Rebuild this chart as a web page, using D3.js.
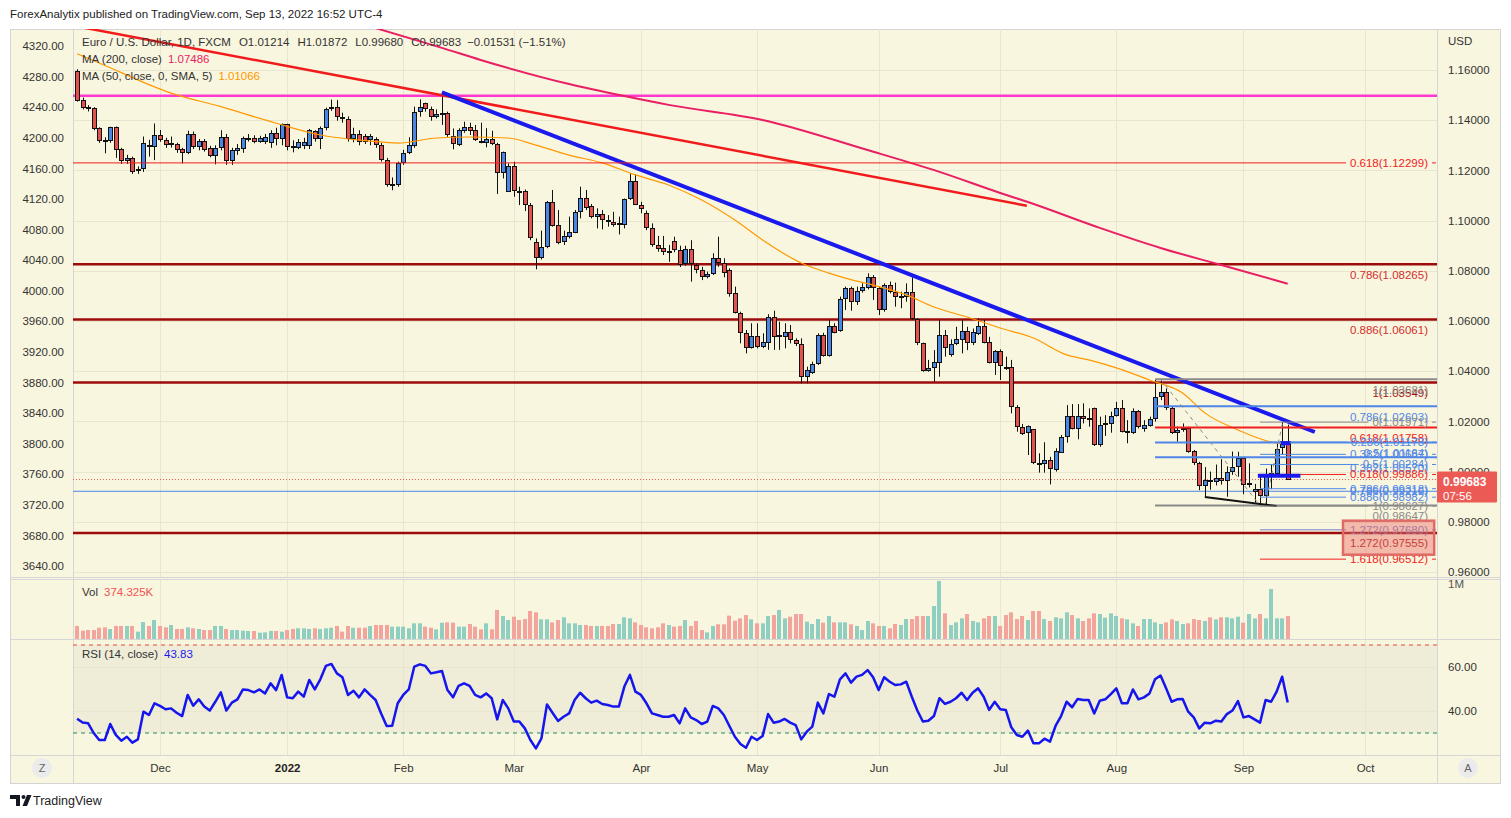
<!DOCTYPE html>
<html>
<head>
<meta charset="utf-8">
<script src="https://cdn.jsdelivr.net/npm/d3@7/dist/d3.min.js"></script>
<style>
html,body{margin:0;padding:0;background:#ffffff;}
svg{display:block;font-family:"Liberation Sans",Arial,sans-serif;}
</style>
</head>
<body>
<svg id="chart" width="1511" height="818"></svg>
<script>
// ================= DATA =================
const startDay = "2021-11-10";
const monthLabels = ["Dec","2022","Feb","Mar","Apr","May","Jun","Jul","Aug","Sep","Oct"];

const open = [
1.1596,1.1481,1.1451,1.1447,1.1368,1.1320,1.1318,1.1372,1.1284,1.1236,
1.1248,1.1196,1.1204,1.1301,1.1292,1.1341,1.1321,1.1300,1.1304,1.1285,
1.1270,1.1345,1.1292,1.1316,1.1288,1.1259,1.1288,1.1334,1.1237,1.1279,
1.1284,1.1322,1.1328,1.1315,1.1315,1.1308,1.1350,1.1324,1.1385,1.1298,
1.1290,1.1297,1.1297,1.1355,1.1324,1.1368,1.1443,1.1454,1.1414,1.1403,
1.1324,1.1345,1.1337,1.1321,1.1324,1.1300,1.1241,1.1142,1.1140,1.1228,
1.1271,1.1298,1.1434,1.1467,1.1443,1.1414,1.1423,1.1427,1.1337,1.1301,
1.1358,1.1372,1.1361,1.1317,1.1308,1.1324,1.1304,1.1191,1.1115,1.1218,
1.1119,1.1118,1.1064,1.0916,1.0850,1.0893,1.1073,1.0982,1.0916,1.0936,
1.0952,1.1033,1.1089,1.1058,1.1013,1.1025,1.1002,1.0996,1.0983,1.0983,
1.1085,1.1158,1.1064,1.1030,1.0969,1.0903,1.0889,1.0876,1.0919,1.0883,
1.0827,1.0885,1.0823,1.0803,1.0777,1.0786,1.0850,1.0830,1.0803,1.0710,
1.0633,1.0551,1.0494,1.0540,1.0498,1.0514,1.0615,1.0535,1.0537,1.0555,
1.0524,1.0507,1.0376,1.0394,1.0429,1.0544,1.0461,1.0580,1.0560,1.0688,
1.0730,1.0677,1.0720,1.0730,1.0777,1.0730,1.0644,1.0744,1.0714,1.0694,
1.0697,1.0714,1.0608,1.0511,1.0402,1.0411,1.0434,1.0544,1.0464,1.0508,
1.0524,1.0560,1.0514,1.0548,1.0580,1.0518,1.0434,1.0480,1.0415,1.0415,
1.0259,1.0179,1.0152,1.0168,1.0036,1.0030,1.0046,1.0006,1.0075,1.0137,
1.0221,1.0170,1.0221,1.0215,1.0252,1.0106,1.0186,1.0190,1.0221,1.0255,
1.0159,1.0155,1.0241,1.0168,1.0183,1.0208,1.0296,1.0316,1.0255,1.0152,
1.0166,1.0172,1.0082,1.0036,0.9943,0.9967,0.9960,0.9973,0.9964,0.9998,
1.0017,1.0054,0.9946,0.9918,0.9930,0.9902,0.9987,0.9990,1.0095,1.01214];

const high = [
1.1603,1.1490,1.1460,1.1452,1.1372,1.1332,1.1374,1.1375,1.1290,1.1262,
1.1255,1.1216,1.1335,1.1322,1.1387,1.1361,1.1330,1.1335,1.1310,1.1290,
1.1358,1.1355,1.1325,1.1325,1.1298,1.1300,1.1360,1.1345,1.1290,1.1305,
1.1335,1.1345,1.1340,1.1338,1.1345,1.1360,1.1370,1.1387,1.1386,1.1320,
1.1325,1.1330,1.1365,1.1360,1.1375,1.1450,1.1482,1.1480,1.1430,1.1415,
1.1370,1.1360,1.1345,1.1345,1.1332,1.1310,1.1250,1.1172,1.1235,1.1282,
1.1332,1.1454,1.1483,1.1470,1.1454,1.1443,1.1506,1.1434,1.1367,1.1368,
1.1394,1.1390,1.1381,1.1390,1.1368,1.1358,1.1310,1.1275,1.1228,1.1235,
1.1135,1.1124,1.1070,1.0929,1.0960,1.1078,1.1122,1.1042,1.0960,1.1016,
1.1042,1.1135,1.1122,1.1066,1.1049,1.1042,1.1022,1.1035,1.1016,1.1088,
1.1188,1.1185,1.1075,1.1040,1.0989,1.0939,1.0939,1.0903,1.0936,1.0900,
1.0900,1.0922,1.0830,1.0816,1.0797,1.0870,1.0936,1.0850,1.0810,1.0737,
1.0637,1.0564,1.0591,1.0591,1.0551,1.0627,1.0641,1.0597,1.0591,1.0584,
1.0531,1.0531,1.0418,1.0438,1.0551,1.0553,1.0604,1.0591,1.0697,1.0737,
1.0737,1.0737,1.0750,1.0790,1.0783,1.0737,1.0750,1.0757,1.0753,1.0717,
1.0750,1.0774,1.0611,1.0514,1.0445,1.0484,1.0604,1.0564,1.0527,1.0577,
1.0604,1.0577,1.0570,1.0611,1.0604,1.0537,1.0484,1.0487,1.0458,1.0445,
1.0265,1.0190,1.0184,1.0170,1.0073,1.0117,1.0059,1.0093,1.0146,1.0265,
1.0269,1.0269,1.0272,1.0252,1.0255,1.0219,1.0225,1.0239,1.0278,1.0285,
1.0205,1.0252,1.0245,1.0205,1.0219,1.0365,1.0368,1.0331,1.0261,1.0179,
1.0192,1.0179,1.0086,1.0039,1.0018,1.0000,1.0028,1.0050,1.0021,1.0080,
1.0079,1.0056,1.0033,0.9951,0.9989,1.0012,1.0030,1.0112,1.0197,1.01872];

const low = [
1.1474,1.1443,1.1435,1.1360,1.1310,1.1268,1.1310,1.1250,1.1226,1.1226,
1.1186,1.1186,1.1194,1.1255,1.1241,1.1314,1.1290,1.1291,1.1270,1.1228,
1.1265,1.1285,1.1280,1.1275,1.1252,1.1224,1.1280,1.1222,1.1222,1.1262,
1.1270,1.1315,1.1308,1.1310,1.1305,1.1290,1.1300,1.1300,1.1280,1.1272,
1.1285,1.1285,1.1285,1.1315,1.1285,1.1360,1.1437,1.1398,1.1390,1.1315,
1.1312,1.1300,1.1305,1.1300,1.1290,1.1235,1.1135,1.1121,1.1135,1.1222,
1.1265,1.1290,1.1414,1.1434,1.1398,1.1407,1.1381,1.1334,1.1284,1.1297,
1.1350,1.1341,1.1317,1.1308,1.1292,1.1301,1.1106,1.1168,1.1115,1.1095,
1.1062,1.1038,1.0922,1.0806,1.0845,1.0890,1.0976,1.0906,1.0903,1.0929,
1.0950,1.1009,1.1042,1.1009,1.0969,1.0965,1.0976,1.0976,1.0945,1.0969,
1.1082,1.1062,1.1029,1.0962,1.0896,1.0876,1.0863,1.0836,1.0874,1.0815,
1.0820,1.0757,1.0790,1.0763,1.0770,1.0783,1.0816,1.0774,1.0697,1.0630,
1.0511,1.0471,1.0490,1.0491,1.0492,1.0485,1.0485,1.0485,1.0491,1.0511,
1.0500,1.0352,1.0352,1.0389,1.0425,1.0458,1.0458,1.0551,1.0557,1.0644,
1.0641,1.0664,1.0713,1.0726,1.0684,1.0624,1.0637,1.0710,1.0657,1.0651,
1.0677,1.0604,1.0504,1.0398,1.0398,1.0358,1.0378,1.0458,1.0458,1.0504,
1.0471,1.0484,1.0504,1.0544,1.0511,1.0431,1.0385,1.0365,1.0405,1.0232,
1.0159,1.0146,1.0066,1.0030,0.9996,0.9996,0.9949,1.0000,1.0075,1.0115,
1.0168,1.0129,1.0192,1.0179,1.0102,1.0099,1.0142,1.0155,1.0219,1.0156,
1.0113,1.0150,1.0172,1.0159,1.0179,1.0199,1.0285,1.0245,1.0150,1.0119,
1.0159,1.0075,1.0026,0.9926,0.9901,0.9928,0.9945,0.9948,0.9900,0.9987,
0.9980,0.9910,0.9937,0.9877,0.9863,0.9864,0.9930,0.9985,1.0068,0.99680];

const close = [
1.1478,1.1447,1.1443,1.1365,1.1318,1.1318,1.1372,1.1281,1.1236,1.1250,
1.1195,1.1206,1.1308,1.1292,1.1341,1.1321,1.1301,1.1310,1.1281,1.1268,
1.1345,1.1292,1.1318,1.1281,1.1259,1.1290,1.1332,1.1237,1.1281,1.1288,
1.1328,1.1328,1.1315,1.1328,1.1332,1.1350,1.1325,1.1385,1.1295,1.1290,
1.1315,1.1315,1.1361,1.1324,1.1368,1.1443,1.1454,1.1414,1.1403,1.1324,
1.1345,1.1314,1.1314,1.1339,1.1300,1.1241,1.1142,1.1145,1.1228,1.1271,
1.1301,1.1434,1.1451,1.1443,1.1414,1.1425,1.1427,1.1341,1.1304,1.1361,
1.1372,1.1358,1.1321,1.1308,1.1324,1.1304,1.1191,1.1272,1.1218,1.1119,
1.1116,1.1064,1.0929,1.0850,1.0893,1.1073,1.0980,1.0909,1.0939,1.0953,
1.1033,1.1089,1.1049,1.1013,1.1025,1.1002,1.0999,1.0983,1.0989,1.1085,
1.1158,1.1064,1.1045,1.0969,1.0903,1.0886,1.0876,1.0878,1.0883,1.0823,
1.0885,1.0826,1.0803,1.0777,1.0787,1.0850,1.0830,1.0793,1.0708,1.0633,
1.0551,1.0494,1.0540,1.0495,1.0515,1.0617,1.0535,1.0544,1.0555,1.0524,
1.0507,1.0376,1.0405,1.0429,1.0544,1.0461,1.0580,1.0554,1.0688,1.0730,
1.0677,1.0721,1.0737,1.0777,1.0730,1.0644,1.0744,1.0714,1.0694,1.0700,
1.0714,1.0608,1.0511,1.0402,1.0411,1.0438,1.0544,1.0491,1.0508,1.0527,
1.0560,1.0514,1.0557,1.0580,1.0514,1.0434,1.0480,1.0422,1.0411,1.0259,
1.0176,1.0150,1.0182,1.0033,1.0030,1.0046,1.0009,1.0082,1.0139,1.0221,
1.0171,1.0221,1.0208,1.0206,1.0106,1.0186,1.0195,1.0221,1.0255,1.0159,
1.0160,1.0241,1.0176,1.0186,1.0208,1.0296,1.0316,1.0255,1.0152,1.0166,
1.0172,1.0079,1.0033,0.9943,0.9966,0.9961,0.9973,0.9964,0.9998,1.0017,
1.0054,0.9946,0.9953,0.9929,0.9903,0.9987,0.9993,1.0092,1.0121,0.99683];

// volume in thousands
const volume = [
212,136,146,146,184,190,163,212,212,212,
212,119,277,212,309,212,190,228,163,163,
190,174,163,146,146,212,212,163,146,146,
136,130,130,103,108,130,130,119,146,163,
174,174,163,174,163,174,184,212,119,212,
184,184,184,212,228,228,228,201,201,201,
174,255,255,201,184,157,266,271,266,201,
201,244,201,157,255,157,472,374,309,363,
309,325,456,434,320,320,271,309,353,255,
255,228,228,212,212,212,212,244,244,353,
336,271,228,190,174,190,255,228,201,212,
309,212,293,146,108,212,239,239,380,298,
336,390,320,255,255,374,390,472,336,363,
407,407,282,244,325,266,374,271,271,271,
239,212,146,293,255,212,212,174,244,228,
325,325,374,374,374,537,944,418,228,271,
336,407,293,271,336,374,374,212,390,434,
325,374,309,456,456,325,293,353,336,434,
390,336,293,336,418,407,347,418,374,336,
320,255,212,325,325,271,244,271,320,293,
244,255,325,309,293,353,320,353,353,336,
363,266,407,336,407,336,814,336,336,374.325];

const rsi = [
36.5,34.8,34.4,30.0,26.8,26.8,34.1,29.1,26.5,28.3,
25.6,27.1,39.7,38.2,43.5,42.3,40.8,41.2,39.2,37.7,
47.3,42.4,45.3,42.0,40.2,44.2,48.5,40.2,43.8,45.3,
49.8,49.5,48.5,49.8,48.0,52.6,49.5,56.4,46.2,45.8,
48.8,46.5,54.1,49.8,54.4,60.5,61.4,57.1,55.3,47.3,
49.2,46.2,49.8,47.3,45.0,38.9,33.2,33.3,43.5,47.3,
49.8,60.2,61.2,60.5,57.1,57.6,58.2,49.5,46.2,51.4,
52.6,51.4,47.3,46.2,48.0,45.8,36.2,45.0,41.2,35.2,
35.2,32.1,26.8,23.0,27.6,43.0,39.2,35.5,37.4,38.9,
45.0,48.3,45.8,43.8,44.7,43.2,42.7,42.0,42.0,51.1,
56.4,48.8,47.3,43.5,38.9,38.2,37.4,37.4,38.2,34.4,
41.2,37.1,35.9,34.1,35.2,42.3,41.2,38.2,33.2,28.3,
25.0,23.3,28.3,26.8,28.6,38.6,34.7,35.2,36.4,34.7,
33.6,27.1,30.6,32.9,43.8,38.9,47.7,46.5,54.4,57.1,
52.9,55.6,56.4,58.6,55.3,49.5,55.3,53.3,51.8,52.1,
53.3,46.5,40.2,35.2,35.6,37.7,45.8,43.2,44.2,45.8,
48.3,45.0,48.3,50.3,46.5,40.5,44.2,40.8,40.5,32.6,
29.1,28.3,31.1,25.3,25.3,27.4,26.1,33.2,37.7,44.2,
41.7,45.5,45.0,45.0,38.9,44.7,45.3,47.7,50.3,43.5,
43.5,49.8,45.3,46.2,48.0,54.4,56.1,50.3,44.2,45.3,
45.5,39.7,37.1,32.1,34.7,34.4,35.6,35.2,38.6,40.2,
44.5,37.1,37.7,36.2,34.7,45.0,44.2,48.8,55.6,43.83];

// moving averages (bar index, value)
const ma50Idx = [0,4,17,26,36,44,53,58,65,71,78,83,89,95,101,107,113,119,124,131,136,139,144,150,155,161,167,173,179,183,188,194,200,204,210,216,219];
const ma50Val = [1.1665,1.1628,1.1508,1.1454,1.1388,1.1341,1.1317,1.1309,1.1329,1.1333,1.1329,1.1301,1.1261,1.1230,1.1182,1.1142,1.1082,1.1002,1.0923,1.0831,1.0791,1.0771,1.0743,1.0704,1.0656,1.0616,1.0572,1.0532,1.0465,1.0445,1.0413,1.0365,1.0313,1.0234,1.0166,1.0118,1.01066];
const ma200Idx = [54,66,73,89,99,107,124,143,156,167,172,185,196,207,219];
const ma200Val = [1.1767,1.1688,1.1640,1.1544,1.1496,1.1461,1.1401,1.1281,1.1194,1.1110,1.1074,1.0971,1.0891,1.0823,1.07486];

// axes ticks
const priceTicks = [1.16,1.14,1.12,1.10,1.08,1.06,1.04,1.02,1.00,0.98,0.96];
const leftTicks = [4320,4280,4240,4200,4160,4120,4080,4040,4000,3960,3920,3880,3840,3800,3760,3720,3680,3640];
const rsiTicks = [60,40];

// drawings (levels / anchors)
const redTrend = {i:[-1,171.8], p:[1.17779,1.10594]};
const blueTrend = {i:[66,223.9], p:[1.1511,1.01578]};
const magentaLevel = 1.14976;
const darkRedLevels = [1.08265,1.06061,1.03549,0.97555];
const darkRedLabels = ["0.786(1.08265)","0.886(1.06061)","1(1.03549)","1.272(0.97555)"];
const redLevel = 1.12299, redLabel = "0.618(1.12299)";
const fullBlueLevel = 0.99216, fullBlueLabel = "0.786(0.99216)";
const lastPrice = 0.99683;
const fib1Start = 195;
const fib1Levels = [1.03681,1.02603,1.01758,1.01164,1.00570,0.98647];
const fib1Labels = ["1(1.03681)","0.786(1.02603)","0.618(1.01758)","0.5(1.01164)","0.382(1.00570)","0(0.98647)"];
const fib1Kind = ["g","b","r","b","b","g"];
const fib2Start = 214;
const fib2Levels = [1.01971,1.01173,1.00687,1.00284,0.99886,0.99318,0.98982,0.98627,0.97680,0.96512];
const fib2Labels = ["0(1.01971)","0.236(1.01173)","0.382(1.00687)","0.5(1.00284)","0.618(0.99886)","0.786(0.99318)","0.886(0.98982)","1(0.98627)","1.272(0.97680)","1.618(0.96512)"];
const fib2Kind = ["g","b","b","b","r","b","b","g","p","r"];
const fib1Trend = {i:[196,214], p:[1.03681,0.98647]};
const fib2Trend = {i:[214.9,218.1], p:[0.98627,1.01971]};
const supportLine = {i:[204,217], p:[0.9899,0.9863]};
const thickBlue1 = {i:[213.6,221.3], p:0.9983};
const thickBlue2 = {i:[217.8,219.4], p:1.0113};
const pinkBox = {i:[229,245.5], p:[0.98044,0.96689]};

// ================= CHART =================
const svg = d3.select("#chart");
const n = close.length;
const FR = {l:10, r:1500, t:29, b:783};
const PL = 73, PR = 1437;
const PRICE = {t:29, b:577}, VOL = {t:579, b:639}, RSIP = {t:640, b:755}, TIME = {t:755, b:783};
const BG = "#f9f6df";

const x = d3.scaleLinear().domain([0, n-1]).range([77.1, 1287.7]);
const y = d3.scaleLinear().domain([0.96, 1.16]).range([572, 70]);
const yL = d3.scaleLinear().domain([3640, 4320]).range([566, 46]);
const yV = d3.scaleLinear().domain([0, 960]).range([VOL.b, 580]);
const yR = d3.scaleLinear().domain([30, 70]).range([733, 645]);

function tradingDays(s, count){
  const out=[]; const d=new Date(s+"T12:00:00");
  while(out.length<count){const wd=d.getDay(); if(wd!==0&&wd!==6) out.push(new Date(d)); d.setDate(d.getDate()+1);}
  return out;
}
const days = tradingDays(startDay, 250);
const monthIdx = [];
for(let i=1;i<days.length;i++) if(days[i].getMonth()!==days[i-1].getMonth()) monthIdx.push(i);

// header
svg.append("text").attr("x",10).attr("y",18).attr("font-size",11.5).attr("fill","#222")
  .text("ForexAnalytix published on TradingView.com, Sep 13, 2022 16:52 UTC-4");

// frame
svg.append("rect").attr("x",FR.l+0.5).attr("y",FR.t+0.5).attr("width",FR.r-FR.l).attr("height",FR.b-FR.t)
  .attr("fill",BG).attr("stroke","#d4d4d4");

const defs = svg.append("defs");
function clip(id, t, b){ defs.append("clipPath").attr("id",id).append("rect").attr("x",PL).attr("y",t).attr("width",PR-PL).attr("height",b-t); }
clip("cp", PRICE.t, PRICE.b); clip("cv", VOL.t, VOL.b); clip("cr", RSIP.t, RSIP.b);
defs.append("clipPath").attr("id","cax").append("rect").attr("x",PR).attr("y",PRICE.b+3).attr("width",FR.r-PR).attr("height",20);

// RSI band
svg.append("rect").attr("x",PL).attr("y",yR(70)).attr("width",PR-PL).attr("height",yR(30)-yR(70)).attr("fill","#efecd8");

// grids
const grid = svg.append("g").attr("stroke","#e9e6cf").attr("stroke-width",1);
monthIdx.forEach(i=>{
  const gx = Math.round(x(i))+0.5;
  [[PRICE.t,PRICE.b],[VOL.t,VOL.b],[RSIP.t,RSIP.b]].forEach(r=>grid.append("line").attr("x1",gx).attr("x2",gx).attr("y1",r[0]).attr("y2",r[1]));
});
priceTicks.forEach(p=>{const gy=Math.round(y(p))+0.5; grid.append("line").attr("x1",PL).attr("x2",PR).attr("y1",gy).attr("y2",gy);});
rsiTicks.forEach(v=>{const gy=Math.round(yR(v))+0.5; grid.append("line").attr("x1",PL).attr("x2",PR).attr("y1",gy).attr("y2",gy);});

// axes
const axFont = 11.5;
const la = svg.append("g").attr("transform",`translate(${PL},0)`)
  .call(d3.axisLeft(yL).tickValues(leftTicks).tickFormat(d3.format(".2f")).tickSize(0).tickPadding(9));
const ra = svg.append("g").attr("transform",`translate(${PR},0)`)
  .call(d3.axisRight(y).tickValues(priceTicks).tickFormat(d3.format(".5f")).tickSize(0).tickPadding(11));
const rr = svg.append("g").attr("transform",`translate(${PR},0)`)
  .call(d3.axisRight(yR).tickValues(rsiTicks).tickFormat(d3.format(".2f")).tickSize(0).tickPadding(11));
const ta = svg.append("g").attr("transform",`translate(0,${TIME.t})`)
  .call(d3.axisBottom(x).tickValues(monthIdx.slice(0,monthLabels.length)).tickFormat((d,i)=>monthLabels[i]).tickSize(0).tickPadding(9));
[la,ra,rr,ta].forEach(g=>{g.select(".domain").remove(); g.selectAll("text").attr("font-size",axFont).attr("fill","#333").attr("font-family","Liberation Sans, Arial, sans-serif");});
ta.selectAll("text").filter(d=>monthLabels[monthIdx.indexOf(d)]==="2022").attr("font-weight","bold").attr("fill","#222");
svg.append("text").attr("x",1448).attr("y",45).attr("font-size",axFont).attr("fill","#333").text("USD");
svg.append("text").attr("x",1448).attr("y",588).attr("font-size",axFont).attr("fill","#555").attr("clip-path","url(#cax)").text("1M");

// separators
const sep = svg.append("g").attr("stroke","#d6d6d6").attr("stroke-width",1);
[PRICE.b+0.5, PRICE.b+2.5, VOL.b+0.5, TIME.t+0.5].forEach(v=>sep.append("line").attr("x1",FR.l).attr("x2",FR.r).attr("y1",v).attr("y2",v));
[PL+0.5, PR+0.5].forEach(v=>sep.append("line").attr("x1",v).attr("x2",v).attr("y1",FR.t).attr("y2",TIME.b));

// ---- price pane ----
const gp = svg.append("g").attr("clip-path","url(#cp)");

function hline(g, p, x1, x2, color, w, dash){
  const yy = y(p);
  const l = g.append("line").attr("x1",x1).attr("x2",x2).attr("y1",yy).attr("y2",yy).attr("stroke",color).attr("stroke-width",w);
  if(dash) l.attr("stroke-dasharray",dash);
  return l;
}
hline(gp, magentaLevel, PL, PR, "#ff38d1", 2.5);
darkRedLevels.forEach(p=>hline(gp, p, PL, PR, "#9c0a0a", 2.5));
hline(gp, fullBlueLevel, PL, PR, "#4f86e8", 1);
hline(gp, lastPrice, PL, PR, "#ef5350", 1, "1,2");

// candles
const cg = gp.append("g");
for(let i=0;i<n;i++){
  const r = Math.round(x(i));
  const up = close[i] >= open[i];
  const yH = y(high[i]), yLo = y(low[i]);
  cg.append("rect").attr("x",r).attr("y",yH).attr("width",1).attr("height",Math.max(1,yLo-yH)).attr("fill","#111");
  const t = y(Math.max(open[i],close[i])), b = y(Math.min(open[i],close[i]));
  const top = Math.round(t), bot = Math.max(Math.round(b), top+2);
  cg.append("rect").attr("x",r-2).attr("y",top).attr("width",5).attr("height",bot-top).attr("fill","#111");
  if(bot-top>2) cg.append("rect").attr("x",r-1).attr("y",top+1).attr("width",3).attr("height",bot-top-2).attr("fill", up?"#4a87e4":"#e2534d");
}

// moving averages
const lineGen = d3.line().curve(d3.curveMonotoneX);
gp.append("path").attr("d", lineGen(ma200Idx.map((d,k)=>[x(d), y(ma200Val[k])]))).attr("fill","none").attr("stroke","#e91e63").attr("stroke-width",2);
gp.append("path").attr("d", lineGen(ma50Idx.map((d,k)=>[x(d), y(ma50Val[k])]))).attr("fill","none").attr("stroke","#ff9800").attr("stroke-width",1.2);

// trend lines
function seg(g, o, color, w, dash){
  const l = g.append("line").attr("x1",x(o.i[0])).attr("y1",y(o.p[0])).attr("x2",x(o.i[1])).attr("y2",y(o.p[1]))
    .attr("stroke",color).attr("stroke-width",w).attr("stroke-linecap","butt");
  if(dash) l.attr("stroke-dasharray",dash);
}
seg(gp, redTrend, "#f21b1b", 2.5);
seg(gp, blueTrend, "#1a1aee", 4);

// fib 1 (labels below line)
const colK = {g:"#8a8a8a", b:"#4f86e8", r:"#f01e1e", p:"#7380c8"};
const labFont = 11.5, labRight = 1428;
const lab = svg.append("g").attr("font-size",labFont).attr("text-anchor","end");
fib1Levels.forEach((p,k)=>{
  hline(gp, p, x(fib1Start), PR, colK[fib1Kind[k]], 2);
});
seg(gp, fib1Trend, "#8a8a8a", 1, "4,4");
seg(gp, fib2Trend, "#8a8a8a", 1, "4,4");
seg(gp, supportLine, "#111", 2);

// pink box
const bx0 = x(pinkBox.i[0]), bx1 = x(pinkBox.i[1]);
svg.append("rect").attr("x",bx0).attr("y",y(pinkBox.p[0])).attr("width",bx1-bx0).attr("height",y(pinkBox.p[1])-y(pinkBox.p[0]))
  .attr("fill","rgba(236,110,106,0.45)").attr("stroke","#e06a66").attr("stroke-width",2.5);

// dark red labels (below)
darkRedLabels.forEach((t,k)=>{
  lab.append("text").attr("x",labRight).attr("y",y(darkRedLevels[k])+14.5).attr("fill", k<2?"#d32f2f":"#a31515").text(t);
});
fib1Labels.forEach((t,k)=>{
  lab.append("text").attr("x",labRight).attr("y",y(fib1Levels[k])+14.5).attr("fill",colK[fib1Kind[k]]).text(t);
});

// centered labels with line up to the text and a short dash after it
function centeredLevel(p, text, color, x1, w){
  const tx = lab.append("text").attr("x",labRight).attr("y",y(p)+4).attr("fill",color).text(text);
  const tw = tx.node().getComputedTextLength();
  hline(gp, p, x1, labRight - tw - 4, color, w);
  hline(gp, p, labRight + 4, PR - 1, color, 1);
}
centeredLevel(redLevel, redLabel, "#f01e1e", PL, 1);
fib2Levels.forEach((p,k)=>centeredLevel(p, fib2Labels[k], colK[fib2Kind[k]], x(fib2Start), 1));
lab.append("text").attr("x",labRight).attr("y",y(fullBlueLevel)+4).attr("fill","#4f86e8").text(fullBlueLabel);

// short thick blue marks
gp.append("line").attr("x1",x(thickBlue1.i[0])).attr("x2",x(thickBlue1.i[1])).attr("y1",y(thickBlue1.p)).attr("y2",y(thickBlue1.p)).attr("stroke","#1a1aee").attr("stroke-width",4);
gp.append("line").attr("x1",x(thickBlue2.i[0])).attr("x2",x(thickBlue2.i[1])).attr("y1",y(thickBlue2.p)).attr("y2",y(thickBlue2.p)).attr("stroke","#1a1aee").attr("stroke-width",4);

// price legend
const lg = svg.append("g").attr("font-size",11.5).attr("fill","#333");
const l1 = lg.append("text").attr("x",82).attr("y",46);
l1.append("tspan").text("Euro / U.S. Dollar, 1D, FXCM");
[["O",open[n-1]],["H",high[n-1]],["L",low[n-1]],["C",close[n-1]]].forEach(d=>{
  l1.append("tspan").attr("dx",8).text(d[0]+d3.format(".5f")(d[1]));
});
l1.append("tspan").attr("dx",6).text("\u22120.01531 (\u22121.51%)");
const l2 = lg.append("text").attr("x",82).attr("y",63);
l2.append("tspan").text("MA (200, close)");
l2.append("tspan").attr("dx",6).attr("fill","#e91e63").text(d3.format(".5f")(ma200Val[ma200Val.length-1]));
const l3 = lg.append("text").attr("x",82).attr("y",80);
l3.append("tspan").text("MA (50, close, 0, SMA, 5)");
l3.append("tspan").attr("dx",6).attr("fill","#ff9800").text(d3.format(".5f")(ma50Val[ma50Val.length-1]));

// last price tag
svg.append("rect").attr("x",PR).attr("y",y(lastPrice)-8).attr("width",60).attr("height",31).attr("fill","#ec5a55").attr("rx",1);
svg.append("text").attr("x",PR+6).attr("y",y(lastPrice)+6).attr("font-size",12).attr("font-weight","bold").attr("fill","#fff").text(d3.format(".5f")(lastPrice));
svg.append("text").attr("x",PR+6).attr("y",y(lastPrice)+20).attr("font-size",11.5).attr("fill","#fff").text("07:56");

// ---- volume pane ----
const gv = svg.append("g").attr("clip-path","url(#cv)");
gv.selectAll("rect").data(volume).join("rect")
  .attr("x",(d,i)=>Math.round(x(i))-2).attr("width",4)
  .attr("y",d=>yV(d)).attr("height",d=>VOL.b-yV(d))
  .attr("fill",(d,i)=> close[i]>=open[i] ? "#8fcfc1" : "#f3a49c");
const vl = svg.append("text").attr("x",82).attr("y",596).attr("font-size",11.5).attr("fill","#333");
vl.append("tspan").text("Vol");
vl.append("tspan").attr("dx",6).attr("fill","#ef5350").text(d3.format(".3f")(volume[n-1])+"K");

// ---- RSI pane ----
const gr = svg.append("g").attr("clip-path","url(#cr)");
gr.append("line").attr("x1",PL).attr("x2",PR).attr("y1",yR(70)).attr("y2",yR(70)).attr("stroke","#f44336").attr("stroke-dasharray","4,4");
gr.append("line").attr("x1",PL).attr("x2",PR).attr("y1",yR(30)).attr("y2",yR(30)).attr("stroke","#1e8a5a").attr("stroke-dasharray","4,4");
gr.append("path").attr("d", d3.line()(rsi.map((v,i)=>[x(i), yR(v)]))).attr("fill","none").attr("stroke","#1515ee").attr("stroke-width",2.5).attr("stroke-linejoin","round");
const rl = svg.append("text").attr("x",82).attr("y",658).attr("font-size",11.5).attr("fill","#333");
rl.append("tspan").text("RSI (14, close)");
rl.append("tspan").attr("dx",6).attr("fill","#1a1aee").text(d3.format(".2f")(rsi[n-1]));

// ---- bottom buttons & footer ----
[[42,"Z"],[1468,"A"]].forEach(d=>{
  svg.append("circle").attr("cx",d[0]).attr("cy",768).attr("r",10).attr("fill","#ebebeb");
  svg.append("text").attr("x",d[0]).attr("y",772).attr("text-anchor","middle").attr("font-size",11).attr("fill","#666").text(d[1]);
});
const logo = svg.append("g").attr("fill","#131722");
logo.append("path").attr("d","M10 795h10v11h-4v-7h-6z");
logo.append("circle").attr("cx",23.5).attr("cy",797).attr("r",2);
logo.append("path").attr("d","M27 795h4.5l-4.5 11h-4.5z");
svg.append("text").attr("x",33).attr("y",805).attr("font-size",12.5).attr("fill","#222").text("TradingView");
</script>
</body>
</html>
